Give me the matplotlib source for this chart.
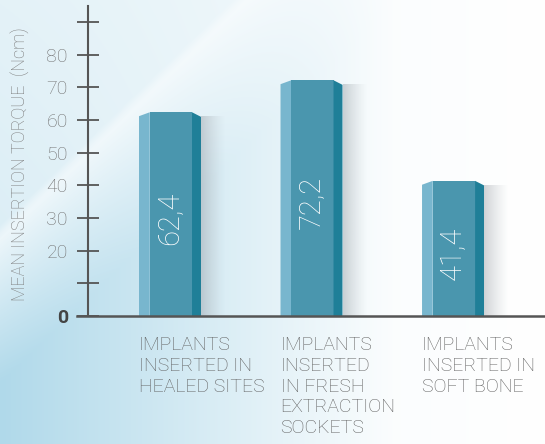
import numpy as np
import matplotlib
matplotlib.use("Agg")
import matplotlib.pyplot as plt
from matplotlib.patches import Polygon
from matplotlib.lines import Line2D

# ---- data ----
categories = ["IMPLANTS\nINSERTED IN\nHEALED SITES",
              "IMPLANTS\nINSERTED\nIN FRESH\nEXTRACTION\nSOCKETS",
              "IMPLANTS\nINSERTED IN\nSOFT BONE"]
values = [62.4, 72.2, 41.4]
value_labels = ["62,4", "72,2", "41,4"]
yticks = [0, 10, 20, 30, 40, 50, 60, 70, 80, 90]
ytick_labels = ["0", "", "20", "30", "40", "50", "60", "70", "80", ""]
ylabel = "MEAN INSERTION TORQUE  (Ncm)"

FONT = ["Roboto", "DejaVu Sans"]
plt.rcParams["font.family"] = FONT
LW = "light"

W, H = 545, 444
fig = plt.figure(figsize=(W / 100, H / 100), dpi=100)

# ---- background gradient ----
yy, xx = np.mgrid[0:H, 0:W].astype(float)
u = xx / W
v = yy / H
line = xx / 240 + yy / 232
a_low = (0.18 * np.clip(1 - u, 0, 1)
         + 0.82 * np.clip((line - 1) / 0.65, 0, 1) ** 0.9 * np.clip(1 - u / 0.72, 0, 1))
a_up = (0.34 + 0.10 * line) * (1 - 0.5 * np.clip(u / 0.44, 0, 1))
wgt = np.clip((line - 1) / 0.06 + 0.5, 0, 1)
a = a_up * (1 - wgt) + a_low * wgt
a = np.clip(a, 0, 1)[..., None]
Bc = np.array([0xb0, 0xd9, 0xea]) / 255.0
Wc = np.array([1.0, 1.0, 1.0])
rgb = Wc + a * (Bc - Wc)
bg = fig.add_axes([0, 0, 1, 1], zorder=-10)
bg.imshow(rgb, aspect="auto", extent=[0, W, H, 0], interpolation="bilinear")
bg.set_axis_off()

# ---- main axes ----
px_per_unit_y = 3.265
y_top = 95
x_left, x_right = -0.5795, 2.650
ax = fig.add_axes([88 / W, (H - 316) / H, (W - 88) / W, y_top * px_per_unit_y / H])
ax.set_facecolor("none")

xs = np.arange(len(values))
bw = 0.438
lf, mf = 0.173, 0.855
dl, dr = 1.2, 1.4
c_light, c_mid, c_dark = "#78b6ce", "#4a96ae", "#1f7f98"

for x, val, lab in zip(xs, values, value_labels):
    x0 = x - bw / 2
    x1 = x + bw / 2
    xa = x0 + lf * bw
    xb = x0 + mf * bw
    # shadow
    sw = 0.17
    grad = np.zeros((1, 64, 4))
    grad[..., 0:3] = np.array([0x9a, 0xa0, 0xa6]) / 255.0
    grad[0, :, 3] = np.linspace(0.55, 0.0, 64) ** 1.3
    ax.imshow(grad, extent=[x1, x1 + sw, 0, val - dr], aspect="auto",
              interpolation="bilinear", zorder=1)
    ax.add_patch(Polygon([(x0, 0), (x0, val - dl), (xa, val), (xa, 0)],
                         closed=True, facecolor=c_light, edgecolor="none", zorder=2))
    ax.add_patch(Polygon([(xa, 0), (xa, val), (xb, val), (xb, 0)],
                         closed=True, facecolor=c_mid, edgecolor="none", zorder=2))
    ax.add_patch(Polygon([(xb, 0), (xb, val), (x1, val - dr), (x1, 0)],
                         closed=True, facecolor=c_dark, edgecolor="none", zorder=2))
    ax.text(x, val / 2 - 1.4, lab, rotation=90, ha="center", va="center",
            color="white", fontsize=21, fontweight=LW, zorder=3)

ax.set_xlim(x_left, x_right)
ax.set_ylim(0, y_top)

# spines
for s in ["top", "right", "bottom"]:
    ax.spines[s].set_visible(False)
ax.spines["left"].set_color("#555555")
ax.spines["left"].set_linewidth(1.5)
ax.add_line(Line2D([-11 / (W - 88), 1], [0, 0], transform=ax.get_yaxis_transform(),
                   color="#555555", linewidth=1.8, clip_on=False, zorder=4))

ax.set_xticks([])
ax.set_yticks(yticks, ytick_labels)
ax.tick_params(axis="y", direction="inout", length=16, width=1.3, color="#555555",
               pad=6.5, labelsize=14, labelcolor="#707070")
for t in ax.get_yticklabels():
    t.set_fontweight(LW)
zl = ax.get_yticklabels()[0]
zl.set_fontweight("bold")
zl.set_color("#444444")

# category labels
for x, cat in zip(xs, categories):
    ax.text(x - bw / 2, -20 / px_per_unit_y, cat, ha="left", va="top",
            fontsize=14, fontweight=LW, color="#606060", linespacing=1.2,
            clip_on=False)

fig.text(20 / W, 1 - 164 / H, ylabel, rotation=90, ha="center", va="center",
         fontsize=13, fontweight=LW, color="#7a7a7a")

fig.savefig("out.png", dpi=100)
